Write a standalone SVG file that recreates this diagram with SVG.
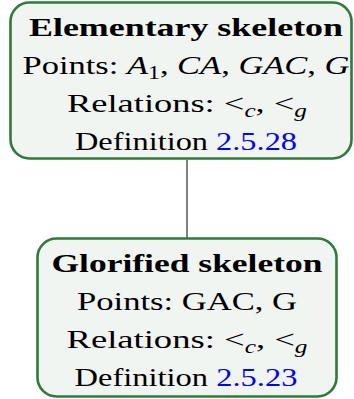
<svg xmlns="http://www.w3.org/2000/svg" width="354" height="399" viewBox="0 0 354 399">
<style>
.box{fill:#f1f5f1;stroke:#2f7a3c;stroke-width:2.6}
.t{font-family:"Liberation Serif","DejaVu Serif",serif;font-size:26px;fill:#000;text-anchor:middle}
.b{font-weight:bold}
.m{font-style:italic}
.link{fill:#0000ff}
.edge{stroke:#000;stroke-width:1}
</style>
<g id="connectors">
<line class="edge" x1="187" y1="160" x2="187" y2="238"/>
</g>
<g id="elementary">
<rect class="box" x="10.5" y="2.5" width="341" height="156" rx="19"/>
<text class="t b" x="186" y="36" textLength="314" lengthAdjust="spacingAndGlyphs">Elementary skeleton</text>
<text class="t" x="186" y="74" textLength="327" lengthAdjust="spacingAndGlyphs">Points: <tspan class="m">A</tspan><tspan font-size="18" dy="5">1</tspan><tspan dy="-5">, </tspan><tspan class="m">CA</tspan>, <tspan class="m">GAC</tspan>, <tspan class="m">G</tspan></text>
<text class="t" x="187" y="112" textLength="240" lengthAdjust="spacingAndGlyphs">Relations: &lt;<tspan class="m" font-size="18" dy="5">c</tspan><tspan dy="-5">, &lt;</tspan><tspan class="m" font-size="18" dy="5">g</tspan></text>
<text class="t" x="186" y="150" textLength="222" lengthAdjust="spacingAndGlyphs">Definition <tspan class="link">2.5.28</tspan></text>
</g>
<g id="glorified">
<rect class="box" x="37.5" y="238.5" width="299" height="158" rx="19"/>
<text class="t b" x="187" y="272" textLength="271" lengthAdjust="spacingAndGlyphs">Glorified skeleton</text>
<text class="t" x="187" y="310" textLength="220" lengthAdjust="spacingAndGlyphs">Points: GAC, G</text>
<text class="t" x="187" y="348" textLength="241" lengthAdjust="spacingAndGlyphs">Relations: &lt;<tspan class="m" font-size="18" dy="5">c</tspan><tspan dy="-5">, &lt;</tspan><tspan class="m" font-size="18" dy="5">g</tspan></text>
<text class="t" x="186" y="386" textLength="223" lengthAdjust="spacingAndGlyphs">Definition <tspan class="link">2.5.23</tspan></text>
</g>
</svg>
